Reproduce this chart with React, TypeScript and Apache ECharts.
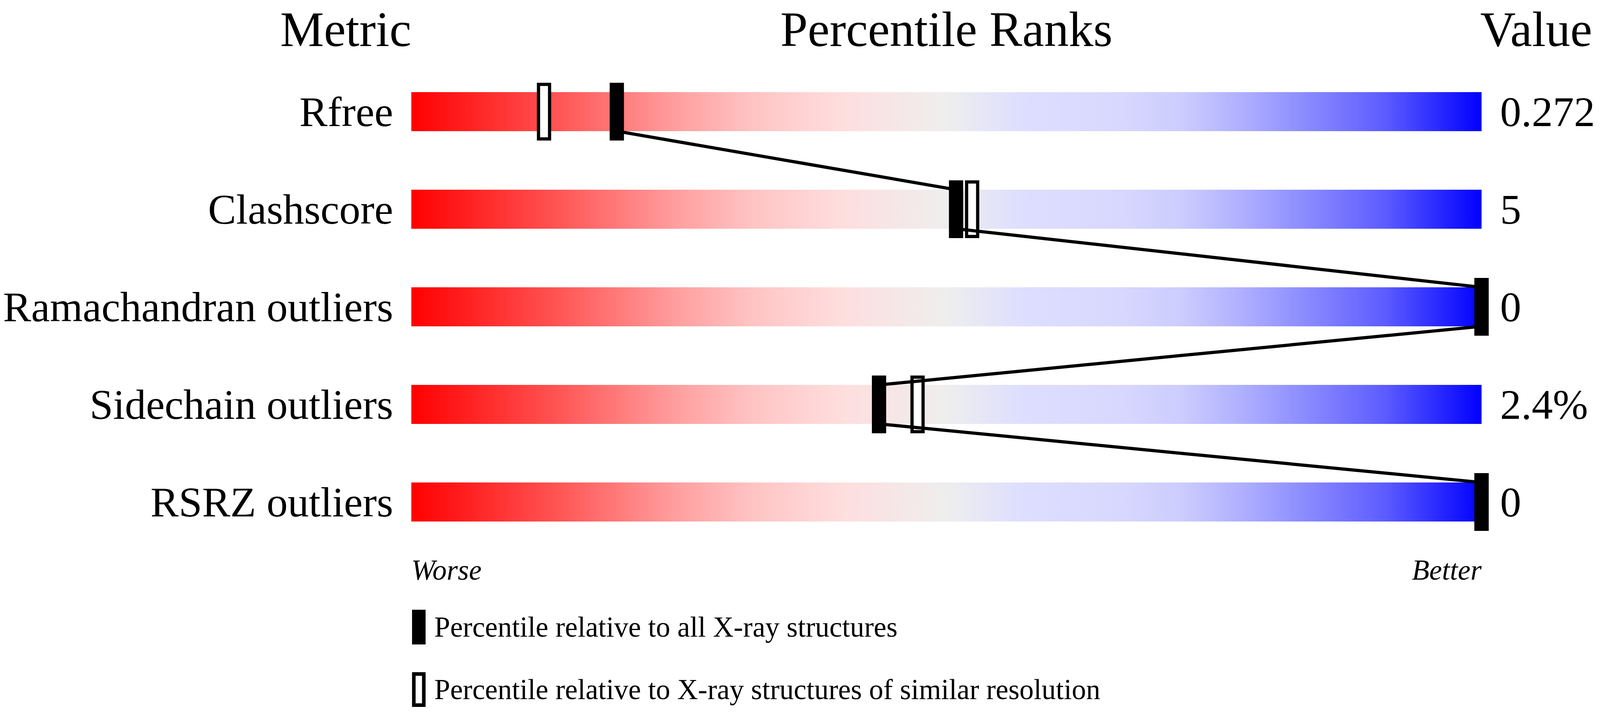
import { useEffect, useRef } from "react";
import * as echarts from "echarts";

const METRICS = ["Rfree", "Clashscore", "Ramachandran outliers", "Sidechain outliers", "RSRZ outliers"];
const VALUES = ["0.272", "5", "0", "2.4%", "0"];
// percentile rank among all X-ray structures (filled marker)
const PCT_ALL = [19.2, 50.9, 100, 43.7, 100];
// percentile rank among structures of similar resolution (open marker)
const PCT_SIMILAR = [12.4, 52.4, 100, 47.3, 100];
const TRACK = [100, 100, 100, 100, 100];
const SCALE_ENDS = ["Worse", "Better"];
const HEADERS = ["Metric", "Percentile Ranks", "Value"];
const LEGEND_ALL = "Percentile relative to all X-ray structures";
const LEGEND_SIMILAR = "Percentile relative to X-ray structures of similar resolution";

const FONT = '"Liberation Serif", "Times New Roman", serif';
// layout was measured on a 4485 x 1824 canvas, scaled to whatever the page gives us
const BASE_W = 4485;
const BASE_H = 1824;

export default function App(): JSX.Element {
  const ref = useRef<HTMLDivElement | null>(null);

  useEffect(() => {
    const el = ref.current;
    if (!el) return;
    const chart = echarts.init(el, null, { renderer: "svg" });

    const w = el.clientWidth || BASE_W;
    const h = el.clientHeight || BASE_H;
    const sx = w / BASE_W;
    const sy = h / BASE_H;
    const fs = Math.min(sx, sy);
    const X = (v: number) => v * sx;
    const Y = (v: number) => v * sy;
    const F = (v: number) => Math.round(v * fs);

    const gridLeft = X(1153);
    const gridRight = X(4153);
    const headerY = Y(75);
    const markerW = X(40);
    const markerH = Y(148);
    const openStroke = X(9);

    chart.setOption({
      animation: false,
      backgroundColor: "#ffffff",
      textStyle: { fontFamily: FONT, color: "#000" },
      grid: { left: gridLeft, right: w - gridRight, top: Y(161), height: Y(1250) },
      xAxis: {
        type: "value",
        min: 0,
        max: 100,
        interval: 100,
        splitLine: { show: false },
        axisLine: { show: false },
        axisTick: { show: false },
        axisLabel: {
          formatter: (v: number) => (v === 0 ? SCALE_ENDS[0] : SCALE_ENDS[1]),
          fontFamily: FONT,
          fontStyle: "italic",
          fontSize: F(80),
          color: "#000",
          margin: Y(49),
          verticalAlign: "middle",
          alignMinLabel: "left",
          alignMaxLabel: "right",
        },
      },
      yAxis: [
        {
          type: "category",
          data: METRICS,
          inverse: true,
          axisLine: { show: false },
          axisTick: { show: false },
          axisLabel: { fontFamily: FONT, fontSize: F(118), color: "#000", margin: X(51), padding: [Y(18), 0, 0, 0] },
        },
        {
          type: "category",
          data: METRICS,
          inverse: true,
          position: "right",
          axisLine: { show: false },
          axisTick: { show: false },
          axisLabel: {
            fontFamily: FONT,
            fontSize: F(118),
            color: "#000",
            margin: X(52),
            padding: [Y(18), 0, 0, 0],
            formatter: (_: string, i: number) => VALUES[i],
          },
        },
      ],
      legend: {
        orient: "vertical",
        left: X(1150) + X(5) - 5,
        top: Y(1557),
        itemWidth: X(38) - X(10),
        itemHeight: Y(89) - X(10),
        itemGap: Y(71),
        selectedMode: false,
        textStyle: { fontFamily: FONT, fontSize: F(80), color: "#000", padding: [Y(22), 0, 0, X(24)] },
        data: [
          { name: LEGEND_ALL, icon: "rect", itemStyle: { color: "#000", borderColor: "#000", borderWidth: X(10) } },
          { name: LEGEND_SIMILAR, icon: "rect", itemStyle: { color: "#fff", borderColor: "#000", borderWidth: X(10) } },
        ],
      },
      graphic: [
        { type: "text", x: gridLeft, y: headerY, style: { text: HEADERS[0], font: `${F(138)}px ${FONT}`, fill: "#000", textAlign: "right", textVerticalAlign: "middle" } },
        { type: "text", x: (gridLeft + gridRight) / 2, y: headerY, style: { text: HEADERS[1], font: `${F(138)}px ${FONT}`, fill: "#000", textAlign: "center", textVerticalAlign: "middle" } },
        { type: "text", x: gridRight - X(4), y: headerY, style: { text: HEADERS[2], font: `${F(138)}px ${FONT}`, fill: "#000", textAlign: "left", textVerticalAlign: "middle" } },
      ],
      series: [
        {
          name: "track",
          type: "bar",
          data: TRACK,
          barWidth: Y(100),
          silent: true,
          z: 1,
          itemStyle: {
            color: new echarts.graphic.LinearGradient(0, 0, 1, 0, [
              { offset: 0, color: "#ff0000" },
              { offset: 0.13, color: "#ff5050" },
              { offset: 0.25, color: "#ffa0a0" },
              { offset: 0.32, color: "#ffc4c4" },
              { offset: 0.4, color: "#ffdddd" },
              { offset: 0.45, color: "#f6e6e6" },
              { offset: 0.5, color: "#eeeeee" },
              { offset: 0.57, color: "#dedeff" },
              { offset: 0.66, color: "#d8d8ff" },
              { offset: 0.72, color: "#ccccff" },
              { offset: 0.78, color: "#adadff" },
              { offset: 0.85, color: "#8282ff" },
              { offset: 0.91, color: "#5c5cff" },
              { offset: 1, color: "#0000ff" },
            ]),
          },
        },
        {
          name: LEGEND_SIMILAR,
          type: "custom",
          z: 2,
          silent: true,
          encode: { x: 0, y: 1 },
          data: PCT_SIMILAR.map((v, i) => [v, i]),
          renderItem: (_params: any, api: any) => {
            const c = api.coord([api.value(0), api.value(1)]);
            return {
              type: "rect",
              shape: {
                x: c[0] - (markerW - openStroke) / 2,
                y: c[1] - (markerH - openStroke) / 2,
                width: markerW - openStroke,
                height: markerH - openStroke,
              },
              style: { fill: "#fff", stroke: "#000", lineWidth: openStroke },
            };
          },
        },
        {
          name: LEGEND_ALL,
          type: "custom",
          z: 3,
          silent: true,
          encode: { x: 0, y: 1 },
          data: PCT_ALL.map((v, i) => [v, i]),
          renderItem: (_params: any, api: any) => {
            const c = api.coord([api.value(0), api.value(1)]);
            return {
              type: "rect",
              shape: { x: c[0] - markerW / 2, y: c[1] - markerH / 2, width: markerW, height: markerH },
              style: { fill: "#000" },
            };
          },
        },
        {
          name: "connector",
          type: "custom",
          z: 4,
          silent: true,
          encode: { x: 0, y: 1 },
          data: PCT_ALL.slice(0, -1).map((v, i) => [v, i, PCT_ALL[i + 1]]),
          renderItem: (_params: any, api: any) => {
            const a = api.coord([api.value(0), api.value(1)]);
            const b = api.coord([api.value(2), api.value(1) + 1]);
            return {
              type: "line",
              shape: { x1: a[0], y1: a[1] + Y(50), x2: b[0], y2: b[1] - Y(50) },
              style: { stroke: "#000", lineWidth: 9 * fs },
            };
          },
        },
      ],
    });

    return () => chart.dispose();
  }, []);

  return <div ref={ref} style={{ position: "absolute", left: 0, top: 0, width: "100vw", height: "100vh" }} />;
}
